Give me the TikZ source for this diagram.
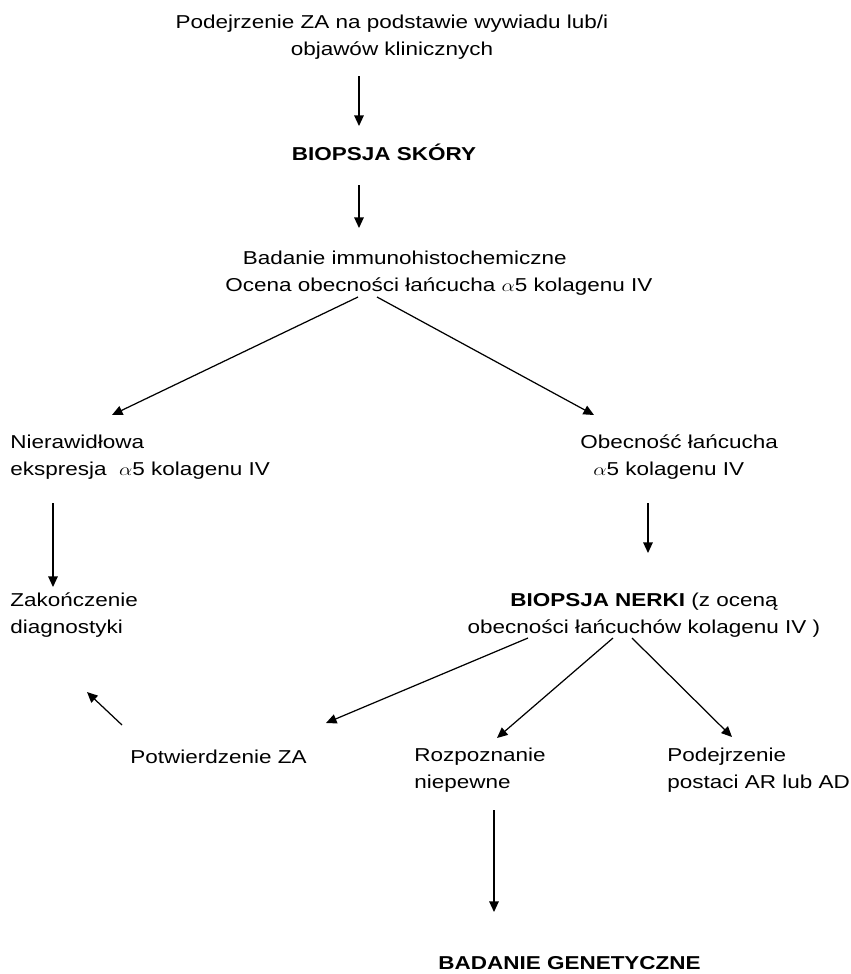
\documentclass[tikz,border=0pt]{standalone}
\usepackage{fontspec}
\setmainfont{Liberation Sans}
\usetikzlibrary{arrows.meta}

\begin{document}
\begin{tikzpicture}[
    x=0.02cm, y=-0.02cm,
    txt/.style={inner sep=0pt, yscale=0.83, font=\fontsize{12.8pt}{18.2pt}\selectfont},
    headtxt/.style={txt, font=\fontsize{12.8pt}{18.2pt}\selectfont\bfseries},
    arr/.style={-{Triangle[length=6pt,width=5.4pt]}, line width=0.7pt}
]
\useasboundingbox (0,0) rectangle (850,974);

% first row (base = last line)
\node[txt, anchor=base, align=center] (podejrz) at (392,55) {Podejrzenie ZA na podstawie wywiadu lub/i\\objawów klinicznych};
\node[headtxt, anchor=base] (skora) at (384,160) {BIOPSJA SKÓRY};
\node[txt, anchor=base west, align=left] (badanie) at (225,291) {\hspace*{10pt}Badanie immunohistochemiczne\\Ocena obecności łańcucha $\alpha$5 kolagenu IV};

% two branches
\node[txt, anchor=base west, align=left] (nieraw) at (10,475) {Nierawidłowa\\ekspresja\ \ $\alpha$5 kolagenu IV};
\node[txt, anchor=base west, align=left] (obecn) at (580,475) {Obecność łańcucha\\\hspace*{7.4pt}$\alpha$5 kolagenu IV};
\node[txt, anchor=base west, align=left] (zakoncz) at (10,633) {Zakończenie\\diagnostyki};
\node[txt, anchor=base, align=center] (nerka) at (644,633) {\textbf{BIOPSJA NERKI} (z oceną\\obecności łańcuchów kolagenu IV )};

% kidney biopsy results
\node[txt, anchor=base west] (potw) at (130,763) {Potwierdzenie ZA};
\node[txt, anchor=base west, align=left] (rozp) at (414,788) {Rozpoznanie\\niepewne};
\node[txt, anchor=base west, align=left] (podej) at (667,788) {Podejrzenie\\postaci AR lub AD};
\node[headtxt, anchor=base west] (genet) at (438,969) {BADANIE GENETYCZNE};

\draw[arr] ([shift={(-33,21)}]podejrz.base) -- ([shift={(-25,-34)}]skora.base);
\draw[arr] ([shift={(-25,25)}]skora.base) -- ([shift={(134,-63)}]badanie.base west);
\draw[arr] ([shift={(133,6)}]badanie.base west) -- ([shift={(102,-60)}]nieraw.base west);
\draw[arr] ([shift={(152,6)}]badanie.base west) -- ([shift={(14,-60)}]obecn.base west);
\draw[arr] ([shift={(43,28)}]nieraw.base west) -- ([shift={(43,-46)}]zakoncz.base west);
\draw[arr] ([shift={(68,28)}]obecn.base west) -- ([shift={(4,-80)}]nerka.base);
\draw[arr] ([shift={(-116,5)}]nerka.base) -- ([shift={(196,-40)}]potw.base west);
\draw[arr] ([shift={(-31,5)}]nerka.base) -- ([shift={(83,-50)}]rozp.base west);
\draw[arr] ([shift={(-12,5)}]nerka.base) -- ([shift={(65,-51)}]podej.base west);
\draw[arr] ([shift={(-8,-38)}]potw.base west) -- ([shift={(77,59)}]zakoncz.base west);
\draw[arr] ([shift={(80,22)}]rozp.base west) -- ([shift={(56,-57)}]genet.base west);
\end{tikzpicture}
\end{document}
